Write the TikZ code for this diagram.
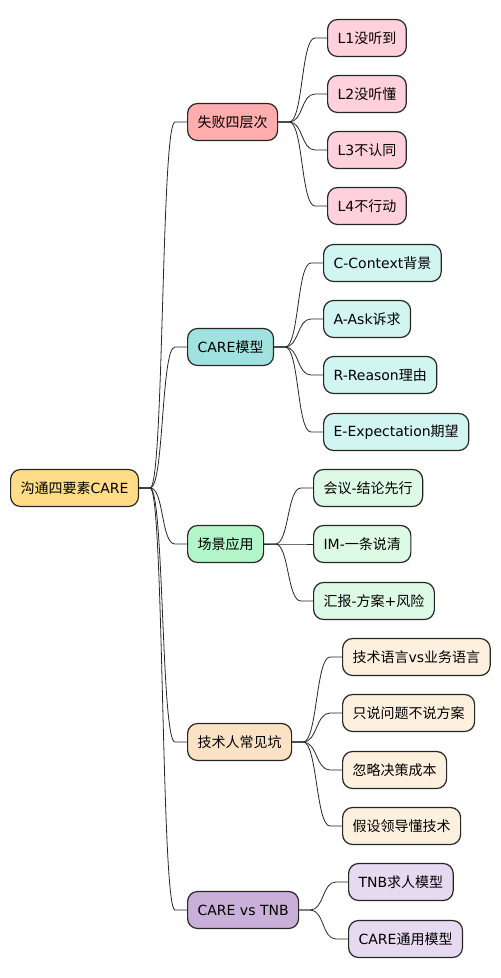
\documentclass[tikz,border=0pt]{standalone}
\usepackage{fontspec}
\setmainfont{DejaVu Sans}
\newfontfamily\cjk{Noto Sans CJK SC}
\usepackage{tikz}
\usetikzlibrary{positioning, calc}
\definecolor{rootfill}{RGB}{255,221,136}
\definecolor{failfill}{RGB}{255,173,173}
\definecolor{faillf}{RGB}{255,209,220}
\definecolor{carefill}{RGB}{160,226,224}
\definecolor{carelf}{RGB}{209,245,240}
\definecolor{scenefill}{RGB}{178,245,200}
\definecolor{scenelf}{RGB}{221,250,228}
\definecolor{pitfill}{RGB}{251,226,196}
\definecolor{pitlf}{RGB}{254,240,222}
\definecolor{tnbfill}{RGB}{202,176,216}
\definecolor{tnblf}{RGB}{230,218,240}
\definecolor{edgegray}{RGB}{38,38,38}
\tikzstyle{bx}=[%
      rectangle, rounded corners=7.5pt, draw=edgegray, line width=0.9pt,
      anchor=west, minimum height=27.75pt, inner xsep=7.5pt, inner ysep=3pt,
      font=\fontsize{10.5}{12}\selectfont
]
\tikzstyle{branch}=[%
      draw=edgegray, line width=0.6pt,
      to path={-- ++(11,0) .. controls +(14,0) and ($(\tikztotarget)+(-26,0)$) .. ($(\tikztotarget)+(-12,0)$) -- (\tikztotarget)}
]

\begin{document}
\begin{tikzpicture}[x=0.75pt, y=-0.75pt]
    \useasboundingbox (0,0) rectangle (500,978);

    % root
    \node[bx, fill=rootfill] (root) at (10,488) {{\cjk 沟通四要素}CARE};

    % first level
    \node[bx, fill=failfill]  (fail)  at (187,122) {\cjk 失败四层次};
    \node[bx, fill=carefill]  (care)  at (187,347) {CARE{\cjk 模型}};
    \node[bx, fill=scenefill] (scene) at (187,544) {\cjk 场景应用};
    \node[bx, fill=pitfill]   (pit)   at (187,742) {\cjk 技术人常见坑};
    \node[bx, fill=tnbfill]   (tnb)   at (187,910) {CARE vs TNB};

    % failure levels
    \node[bx, fill=faillf] (fa) at (327,38)  {L1{\cjk 没听到}};
    \node[bx, fill=faillf] (fb) at (327,94)  {L2{\cjk 没听懂}};
    \node[bx, fill=faillf] (fc) at (327,150) {L3{\cjk 不认同}};
    \node[bx, fill=faillf] (fd) at (327,206) {L4{\cjk 不行动}};

    % CARE model
    \node[bx, fill=carelf] (ca) at (323,263) {C-Context{\cjk 背景}};
    \node[bx, fill=carelf] (cb) at (323,319) {A-Ask{\cjk 诉求}};
    \node[bx, fill=carelf] (cc) at (323,375) {R-Reason{\cjk 理由}};
    \node[bx, fill=carelf] (cd) at (323,432) {E-Expectation{\cjk 期望}};

    % scenes
    \node[bx, fill=scenelf] (sa) at (313,488) {{\cjk 会议}-{\cjk 结论先行}};
    \node[bx, fill=scenelf] (sb) at (313,544) {IM-{\cjk 一条说清}};
    \node[bx, fill=scenelf] (sc) at (313,601) {{\cjk 汇报}-{\cjk 方案}+{\cjk 风险}};

    % pitfalls
    \node[bx, fill=pitlf] (pa) at (342,657) {{\cjk 技术语言}vs{\cjk 业务语言}};
    \node[bx, fill=pitlf] (pb) at (342,713) {\cjk 只说问题不说方案};
    \node[bx, fill=pitlf] (pc) at (342,770) {\cjk 忽略决策成本};
    \node[bx, fill=pitlf] (pd) at (342,826) {\cjk 假设领导懂技术};

    % CARE vs TNB
    \node[bx, fill=tnblf] (ta) at (348,882) {TNB{\cjk 求人模型}};
    \node[bx, fill=tnblf] (tb) at (348,939) {CARE{\cjk 通用模型}};

    \foreach \n in {fail, care, scene, pit, tnb}
      \draw[branch] (root.east) to (\n.west);
    \foreach \n in {fa, fb, fc, fd}
      \draw[branch] (fail.east) to (\n.west);
    \foreach \n in {ca, cb, cc, cd}
      \draw[branch] (care.east) to (\n.west);
    \foreach \n in {sa, sb, sc}
      \draw[branch] (scene.east) to (\n.west);
    \foreach \n in {pa, pb, pc, pd}
      \draw[branch] (pit.east) to (\n.west);
    \foreach \n in {ta, tb}
      \draw[branch] (tnb.east) to (\n.west);
\end{tikzpicture}
\end{document}
